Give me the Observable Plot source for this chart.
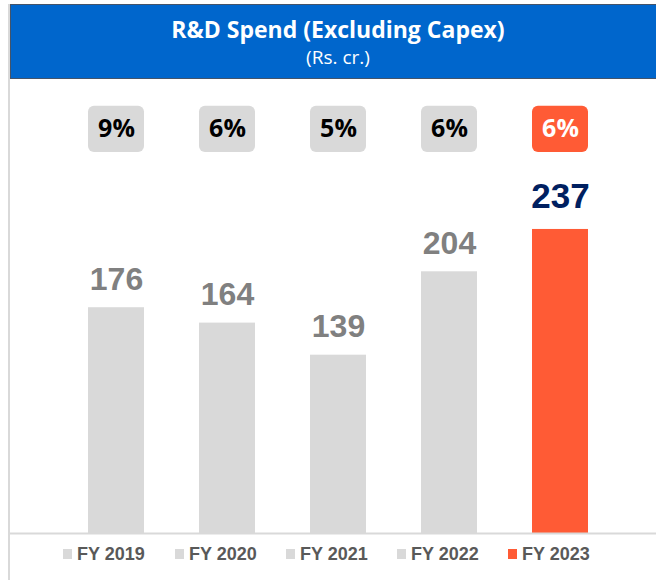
<!DOCTYPE html>
<html>
<head>
<meta charset="utf-8">
<script src="https://cdn.jsdelivr.net/npm/d3@7"></script>
<script src="https://cdn.jsdelivr.net/npm/@observablehq/plot@0.6"></script>
<style>
  html, body { margin: 0; padding: 0; background: #fff; width: 656px; height: 580px; overflow: hidden; }
  #frame { position: absolute; left: 8px; top: 4px; width: 0; height: 576px; border-left: 2px solid #d9d9d9; }
  #header { position: absolute; left: 10px; top: 4px; width: 645px; height: 73px; background: #0066CC; border: 1px solid #44546A; border-right: none; color: #fff; text-align: center; font-family: "Open Sans", Lato, sans-serif; }
  #title { position: absolute; left: 9px; right: 0; top: 10px; font-weight: 700; font-size: 23px; line-height: 28px; }
  #subtitle { position: absolute; left: 9px; right: 0; top: 41px; font-size: 19px; line-height: 22px; }
  #chart { position: absolute; left: 8px; top: 78px; }
  #legend { position: absolute; left: 0; top: 544px; width: 656px; height: 20px; font-family: "Liberation Sans", Arial, sans-serif; font-weight: 700; font-size: 18px; color: #595959; }
  .item { position: absolute; top: 0; height: 20px; display: flex; align-items: center; white-space: nowrap; }
  .sw { width: 9px; height: 10px; margin-right: 5px; }
</style>
</head>
<body>
<div id="frame"></div>
<div id="header"><div id="title">R&amp;D Spend (Excluding Capex)</div><div id="subtitle">(Rs. cr.)</div></div>
<div id="chart"></div>
<div id="legend"></div>
<script>
const years = ["FY 2019", "FY 2020", "FY 2021", "FY 2022", "FY 2023"];
const spend = [176, 164, 139, 204, 237];
const pctLabels = ["9%", "6%", "5%", "6%", "6%"];
const highlight = "FY 2023";

const grey = "#D9D9D9", orange = "#FF5B35";
const data = years.map((y, i) => ({year: y, value: spend[i], pct: pctLabels[i], hi: y === highlight}));

const chart = Plot.plot({
  width: 648,
  height: 457,
  marginLeft: 0,
  marginRight: 0,
  marginTop: 6,
  marginBottom: 2,
  x: {domain: years, range: [23, 637], padding: 0.5, axis: null},
  y: {domain: [0, 350], axis: null},
  marks: [
    Plot.barY(data, {x: "year", y: "value", fill: d => d.hi ? orange : grey}),
    Plot.ruleY([0], {stroke: "#d9d9d9", strokeWidth: 2}),
    Plot.text(data.filter(d => !d.hi), {x: "year", y: "value", text: d => String(d.value), lineAnchor: "bottom", dy: -18, fill: "#808080", fontSize: 32, fontWeight: 700, fontFamily: "Liberation Sans, Arial, sans-serif"}),
    Plot.text(data.filter(d => d.hi), {x: "year", y: "value", text: d => String(d.value), lineAnchor: "bottom", dy: -21, fill: "#002060", fontSize: 35, fontWeight: 700, fontFamily: "Liberation Sans, Arial, sans-serif"}),
    Plot.barY(data, {x: "year", y1: 297, y2: 333, fill: d => d.hi ? orange : grey, rx: 6}),
    Plot.text(data, {x: "year", y: 315, text: "pct", fill: d => d.hi ? "#fff" : "#000", fontSize: 25, fontWeight: 700, fontFamily: "Open Sans, sans-serif", lineAnchor: "middle"})
  ]
});
document.getElementById("chart").appendChild(chart);

const legendX = [63, 175, 286, 397, 508];
const leg = d3.select("#legend");
years.forEach((y, i) => {
  const it = leg.append("div").attr("class", "item").style("left", legendX[i] + "px");
  it.append("div").attr("class", "sw").style("background", y === highlight ? orange : grey);
  it.append("span").text(y);
});
</script>
</body>
</html>
